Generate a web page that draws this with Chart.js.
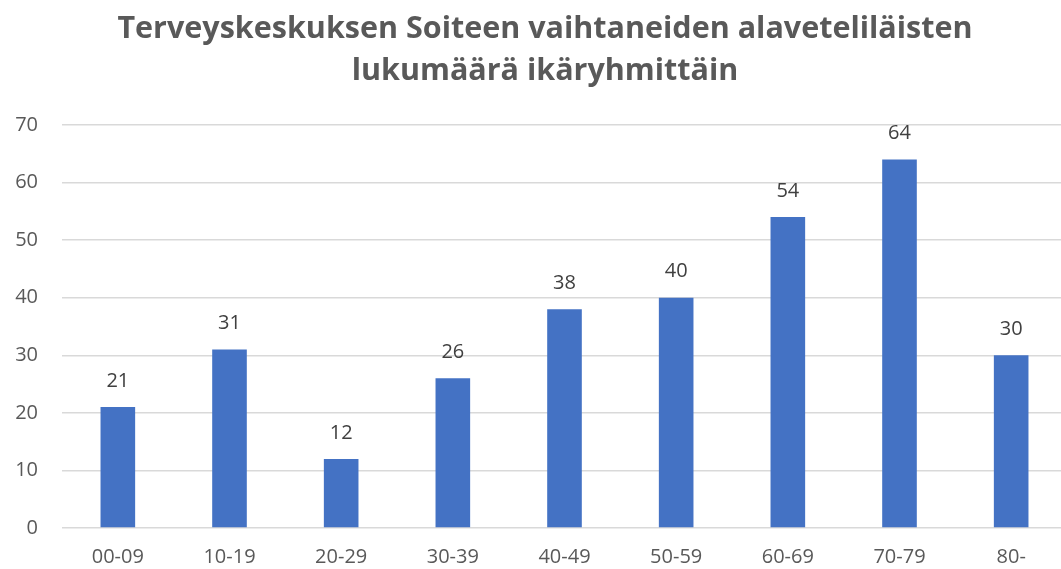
<!DOCTYPE html>
<html>
<head>
<meta charset="utf-8">
<script src="https://cdn.jsdelivr.net/npm/chart.js@4/dist/chart.umd.min.js"></script>
<style>
  html, body { margin: 0; padding: 0; background: #fff; overflow: hidden; }
  #wrap { width: 1067px; height: 569px; }
</style>
</head>
<body>
<div id="wrap"><canvas id="ageChart"></canvas></div>
<script>
// Data
const ageGroups = ['00-09', '10-19', '20-29', '30-39', '40-49', '50-59', '60-69', '70-79', '80-'];
const patientCounts = [21, 31, 12, 26, 38, 40, 54, 64, 30];
const titleLines = ['Terveyskeskuksen Soiteen vaihtaneiden alavetelil\u00e4isten', 'lukum\u00e4\u00e4r\u00e4 ik\u00e4ryhmitt\u00e4in'];

const fontFamily = '"Open Sans", "Noto Sans", sans-serif';

// draw the value above each bar
const valueLabels = {
  id: 'valueLabels',
  afterDatasetsDraw(chart) {
    const ctx = chart.ctx;
    const meta = chart.getDatasetMeta(0);
    ctx.save();
    ctx.fillStyle = '#404040';
    ctx.font = '20px ' + fontFamily;
    ctx.textAlign = 'center';
    ctx.textBaseline = 'middle';
    meta.data.forEach((bar, i) => {
      ctx.fillText(patientCounts[i], bar.x, bar.y - 26);
    });
    ctx.restore();
  }
};

// title drawn by hand so it can sit centred on the visible window
const chartTitle = {
  id: 'chartTitle',
  afterDraw(chart) {
    const ctx = chart.ctx;
    ctx.save();
    ctx.fillStyle = '#595959';
    ctx.font = 'bold 30.5px ' + fontFamily;
    ctx.textAlign = 'center';
    ctx.textBaseline = 'middle';
    titleLines.forEach((line, i) => {
      ctx.fillText(line, 545, 29 + i * 42);
    });
    ctx.restore();
  }
};

const ctx = document.getElementById('ageChart').getContext('2d');
const chart = new Chart(ctx, {
  type: 'bar',
  data: {
    labels: ageGroups,
    datasets: [{
      data: patientCounts,
      backgroundColor: '#4472C4',
      borderWidth: 0,
      barPercentage: 0.31,
      categoryPercentage: 1
    }]
  },
  options: {
    responsive: true,
    maintainAspectRatio: false,
    animation: false,
    layout: { padding: { top: 125, left: 0, right: 0, bottom: 0 } },
    plugins: {
      legend: { display: false },
      tooltip: { enabled: false },
      title: { display: false }
    },
    scales: {
      x: {
        grid: { display: false, drawTicks: false },
        border: { display: false },
        ticks: { color: '#595959', font: { family: fontFamily, size: 20 }, padding: 17 },
        afterFit(scale) { scale.height = 41; }
      },
      y: {
        min: 0,
        max: 70,
        ticks: { stepSize: 10, color: '#595959', font: { family: fontFamily, size: 20 }, padding: 24 },
        grid: { color: '#d9d9d9', lineWidth: 1.5, drawTicks: false },
        border: { display: false },
        afterFit(scale) { scale.width = 62; }
      }
    }
  },
  plugins: [valueLabels, chartTitle]
});
</script>
</body>
</html>
